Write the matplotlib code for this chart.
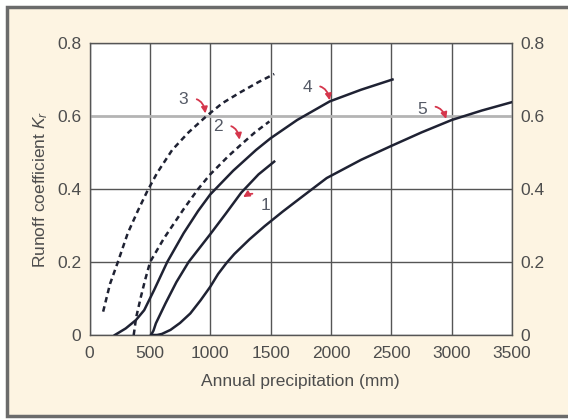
import matplotlib
matplotlib.use('Agg')
import matplotlib.pyplot as plt
from matplotlib.patches import Rectangle

plt.rcParams['font.family'] = ['Liberation Sans', 'DejaVu Sans']
plt.rcParams['mathtext.fontset'] = 'custom'
plt.rcParams['mathtext.it'] = 'Liberation Sans:italic'
plt.rcParams['mathtext.rm'] = 'Liberation Sans'

# Runoff coefficient curves vs annual precipitation (mm)
x_curve1 = [510, 530, 550, 630, 720, 821, 1000, 1130, 1257, 1400, 1530]
y_curve1 = [0.0, 0.012, 0.032, 0.087, 0.145, 0.2, 0.276, 0.333, 0.39, 0.44, 0.475]

x_curve2 = [366, 375, 385, 426, 460, 502, 617, 780, 900, 1000, 1150, 1250, 1370, 1490]
y_curve2 = [0.0, 0.02, 0.046, 0.105, 0.15, 0.2, 0.265, 0.345, 0.40, 0.44, 0.49, 0.52, 0.555, 0.585]

x_curve3 = [113, 170, 235, 317, 400, 480, 562, 685, 820, 970, 1100, 1250, 1400, 1530]
y_curve3 = [0.064, 0.14, 0.2, 0.279, 0.34, 0.395, 0.445, 0.507, 0.555, 0.6, 0.635, 0.665, 0.693, 0.715]

x_curve4 = [210, 300, 385, 453, 535, 644, 780, 900, 1000, 1190, 1380, 1500, 1720, 1990, 2250, 2510]
y_curve4 = [0.0, 0.018, 0.041, 0.068, 0.123, 0.2, 0.279, 0.34, 0.385, 0.45, 0.507, 0.539, 0.589, 0.64, 0.672, 0.70]

x_curve5 = [510, 560, 600, 671, 750, 835, 920, 1000, 1065, 1134, 1200, 1325, 1450, 1600, 1750, 1965,
            2250, 2500, 2750, 3000, 3250, 3500]
y_curve5 = [0.0, 0.0, 0.003, 0.014, 0.033, 0.059, 0.095, 0.132, 0.167, 0.197, 0.222, 0.262, 0.298, 0.338,
            0.376, 0.43, 0.48, 0.518, 0.555, 0.589, 0.615, 0.638]

curve_labels = ['1', '2', '3', '4', '5']
label_xy = [(1458, 0.356), (1066, 0.57), (780, 0.644), (1802, 0.677), (2757, 0.617)]
arrow_tips = [(1272, 0.378), (1243, 0.535), (960, 0.607), (1990, 0.643), (2955, 0.592)]

x_ticks = [0, 500, 1000, 1500, 2000, 2500, 3000, 3500]
y_ticks = [0, 0.2, 0.4, 0.6, 0.8]
y_tick_labels = ['0', '0.2', '0.4', '0.6', '0.8']

text_color = '#4d4d4d'
line_color = '#1f2233'
arrow_color = '#d5364c'

fig = plt.figure(figsize=(5.68, 4.19), dpi=100, facecolor='white')
fig.patches.append(Rectangle((7 / 568, 3 / 419), 1.0, 409 / 419,
                             transform=fig.transFigure, facecolor='#fdf4e2',
                             edgecolor='#6b6b6b', linewidth=2.5, zorder=-10))

ax = fig.add_axes([89.5 / 568, 84 / 419, 422.5 / 568, 292 / 419])
ax.set_zorder(1)
ax.set_facecolor('white')
ax.set_xlim(0, 3500)
ax.set_ylim(0, 0.8)

# grid: dark lines, the 0.6 line is drawn lighter and heavier
for xv in x_ticks:
    ax.axvline(xv, color='#555555', lw=1.0, zorder=1)
for yv in y_ticks:
    if yv == 0.6:
        ax.axhline(yv, color='#b4b4b4', lw=2.0, zorder=1)
    else:
        ax.axhline(yv, color='#555555', lw=1.0, zorder=1)
for s in ax.spines.values():
    s.set_color('#555555')
    s.set_linewidth(1.0)

ax.plot(x_curve1, y_curve1, color=line_color, lw=1.8, zorder=3)
ax.plot(x_curve4, y_curve4, color=line_color, lw=1.8, zorder=3)
ax.plot(x_curve5, y_curve5, color=line_color, lw=1.8, zorder=3)
ax.plot(x_curve2, y_curve2, color=line_color, lw=1.8, ls=(0, (2.2, 1.6)), zorder=3)
ax.plot(x_curve3, y_curve3, color=line_color, lw=1.8, ls=(0, (2.2, 1.6)), zorder=3)

for lab, xy, tip in zip(curve_labels, label_xy, arrow_tips):
    rad = 0.6 if lab == '1' else -0.6
    ax.annotate(lab, xy=tip, xytext=xy, fontsize=12.5, color='#555a66',
                ha='center', va='center', zorder=4,
                arrowprops=dict(arrowstyle='-|>', color=arrow_color, lw=1.3,
                                mutation_scale=9, shrinkA=4, shrinkB=0,
                                connectionstyle='arc3,rad=%.1f' % rad))

ax.set_xticks(x_ticks)
ax.set_yticks(y_ticks)
ax.set_yticklabels(y_tick_labels)
ax.tick_params(length=0, labelsize=12.5, colors=text_color, pad=8)
ax.tick_params(axis='y', labelright=True, right=False, pad=6)

ax.set_xlabel('Annual precipitation (mm)', fontsize=12.5, color=text_color, labelpad=9)
ax.set_ylabel('Runoff coefficient $K_r$', fontsize=12.5, color=text_color, labelpad=5)

fig.savefig('out.png', dpi=100, facecolor=fig.get_facecolor())
